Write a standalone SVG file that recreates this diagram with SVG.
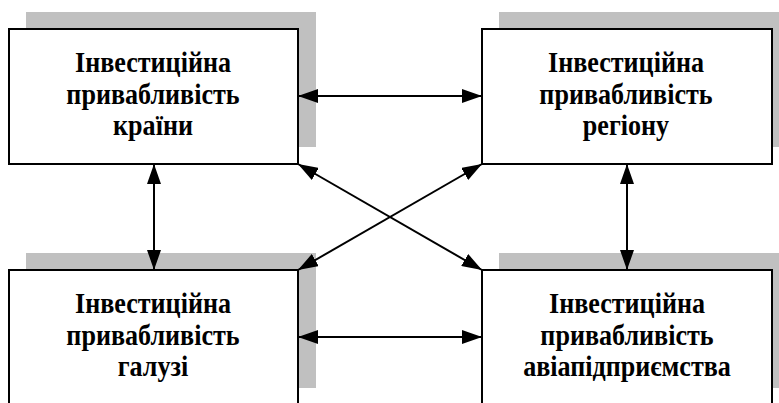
<svg xmlns="http://www.w3.org/2000/svg" width="779" height="403" viewBox="0 0 779 403">
<style>
.shadow{fill:#c0c0c0;stroke:none}
.box{fill:#ffffff;stroke:#000000;stroke-width:2}
.lbl{font-family:"Liberation Serif","Times New Roman",serif;font-weight:bold;font-size:29px;fill:#000000;text-anchor:middle}
.conn{stroke:#000000;stroke-width:2;fill:none;marker-start:url(#ah);marker-end:url(#ah)}
</style>
<defs>
<marker id="ah" markerUnits="userSpaceOnUse" markerWidth="20" markerHeight="14" refX="20" refY="7" orient="auto-start-reverse" viewBox="0 0 20 14">
<path d="M0,0 L20,7 L0,14 Z" fill="#000000"/>
</marker>
</defs>
<rect width="779" height="403" fill="#ffffff"/>
<g id="node-country">
<rect class="shadow" x="26" y="12" width="290" height="135"/>
<rect class="box" x="9" y="29" width="289" height="135"/>
<g transform="translate(153 0) scale(0.9 1)">
<text class="lbl" x="0" y="72">Інвестиційна</text>
<text class="lbl" x="0" y="104">привабливість</text>
<text class="lbl" x="0" y="135">країни</text>
</g>
</g>
<g id="node-region">
<rect class="shadow" x="499" y="12" width="290" height="135"/>
<rect class="box" x="482" y="29" width="290" height="135"/>
<g transform="translate(626 0) scale(0.9 1)">
<text class="lbl" x="0" y="72">Інвестиційна</text>
<text class="lbl" x="0" y="104">привабливість</text>
<text class="lbl" x="0" y="135">регіону</text>
</g>
</g>
<g id="node-industry">
<rect class="shadow" x="26" y="253" width="290" height="135"/>
<rect class="box" x="9" y="270" width="289" height="135"/>
<g transform="translate(153 0) scale(0.9 1)">
<text class="lbl" x="0" y="313">Інвестиційна</text>
<text class="lbl" x="0" y="345">привабливість</text>
<text class="lbl" x="0" y="376">галузі</text>
</g>
</g>
<g id="node-enterprise">
<rect class="shadow" x="499" y="253" width="290" height="135"/>
<rect class="box" x="482" y="270" width="290" height="135"/>
<g transform="translate(627 0) scale(0.9 1)">
<text class="lbl" x="0" y="313">Інвестиційна</text>
<text class="lbl" x="0" y="345">привабливість</text>
<text class="lbl" x="0" y="376">авіапідприємства</text>
</g>
</g>
<g id="connectors">
<line class="conn" x1="298" y1="96" x2="482" y2="96"/>
<line class="conn" x1="298" y1="337" x2="482" y2="337"/>
<line class="conn" x1="154" y1="164" x2="154" y2="270"/>
<line class="conn" x1="627" y1="164" x2="627" y2="270"/>
<line class="conn" x1="298" y1="164" x2="482" y2="270"/>
<line class="conn" x1="482" y1="164" x2="298" y2="270"/>
</g>
</svg>
